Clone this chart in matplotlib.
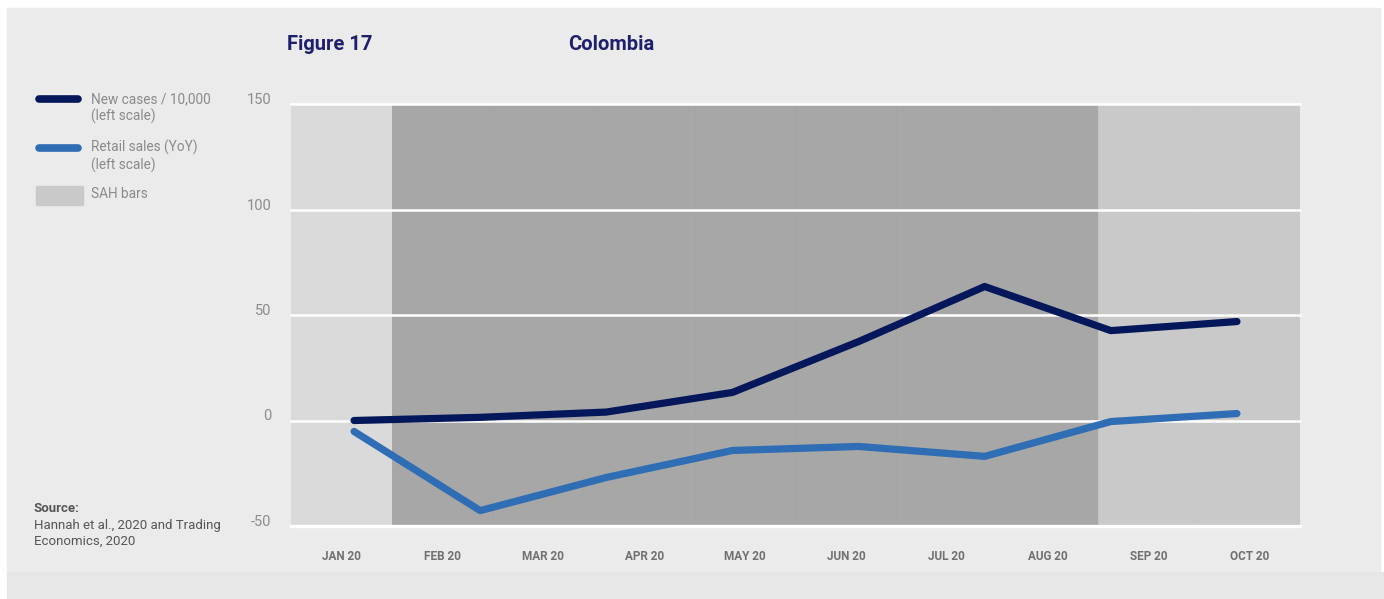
import numpy as np
import matplotlib.pyplot as plt
from matplotlib.lines import Line2D
from matplotlib.patches import Rectangle

plt.rcParams['font.family'] = ['Roboto', 'DejaVu Sans']

# monthly SAH bars (stringency shade level per month)
months = ['JAN 20', 'FEB 20', 'MAR 20', 'APR 20', 'MAY 20',
          'JUN 20', 'JUL 20', 'AUG 20', 'SEP 20', 'OCT 20']
sah_level = [1, 3, 3, 3, 3, 3, 3, 3, 2, 2]

# the two series sit on their own 8-step scale
new_cases = [0, 1.5, 4, 13.3, 37.4, 63.5, 42.6, 46.9]
retail_sales = [-5.2, -42.7, -27, -14.2, -12.3, -17, -0.5, 3.3]

yticks = [-50, 0, 50, 100, 150]

W, H = 1384, 599
fig = plt.figure(figsize=(W / 100, H / 100), dpi=100, facecolor='white')

# background panel + bottom band
fig.add_artist(Rectangle((7 / W, 1 - 572 / H), 1373 / W, 564 / H,
                         transform=fig.transFigure, color='#ebebeb', zorder=-10))
fig.add_artist(Rectangle((7 / W, 0), 1 - 7 / W, 1 - 572 / H,
                         transform=fig.transFigure, color='#e6e6e6', zorder=-10))

ax = fig.add_axes([291 / W, 73 / H, 1009 / W, 422 / H])
ax.patch.set_visible(False)

shade = {1: '#dadada', 2: '#c9c9c9', 3: '#a7a7a7'}
edge = {1: '#d8d8d8', 2: '#c7c7c7', 3: '#a4a4a4'}
xm = np.arange(len(months))
ax.bar(xm, yticks[-1] - yticks[0], bottom=yticks[0], width=1.0,
       color=[shade[s] for s in sah_level],
       edgecolor=[edge[s] for s in sah_level], linewidth=0.6, zorder=1)
for yv in yticks:
    ax.axhline(yv, color='white', lw=1.8 if yv != yticks[0] else 2.4, zorder=2, clip_on=False)

ax.set_xlim(-0.5, len(months) - 0.5)
ax.set_ylim(yticks[0], yticks[-1])
ax.set_xticks(xm)
ax.set_xticklabels(months, fontsize=8.5, fontweight='bold', color='#707070')
ax.set_yticks(yticks)
ax.set_yticklabels([str(v) for v in yticks], fontsize=10.5, color='#8c8c8c')
ax.tick_params(axis='x', length=0, pad=17)
ax.tick_params(axis='y', length=0, pad=14)
for lbl in ax.get_yticklabels():
    lbl.set_va('baseline')
for s in ax.spines.values():
    s.set_visible(False)

# line series on a twin x scale
ax2 = ax.twiny()
xl = np.arange(len(new_cases))
ax2.set_xlim(-0.5, len(new_cases) - 0.5)
ax2.plot(xl, new_cases, color='#03175a', lw=5.2, solid_capstyle='round',
         solid_joinstyle='round', zorder=5)
ax2.plot(xl, retail_sales, color='#2f6db5', lw=5.2, solid_capstyle='round',
         solid_joinstyle='round', zorder=5)
ax2.set_xticks([])
for s in ax2.spines.values():
    s.set_visible(False)

# titles
navy = '#1f1f6e'
fig.text(287 / W, 1 - 45 / H, 'Figure 17', fontsize=14.5, fontweight='bold',
         color=navy, va='center', ha='left')
fig.text(568 / W, 1 - 45 / H, 'Colombia', fontsize=14.5, fontweight='bold',
         color=navy, va='center', ha='left')

# legend drawn by hand
lg = '#8a8a8a'
fig.add_artist(Line2D([39 / W, 78 / W], [1 - 99 / H] * 2, color='#03175a', lw=5.5,
                      solid_capstyle='round', transform=fig.transFigure))
fig.add_artist(Line2D([39 / W, 78 / W], [1 - 148 / H] * 2, color='#2f6db5', lw=5.5,
                      solid_capstyle='round', transform=fig.transFigure))
fig.add_artist(Rectangle((36 / W, 1 - 205 / H), 47 / W, 19 / H,
                         transform=fig.transFigure, color='#c9c9c9'))
fig.text(91 / W, 1 - 99 / H, 'New cases / 10,000', fontsize=9.8, color=lg, va='center')
fig.text(91 / W, 1 - 116 / H, '(left scale)', fontsize=9.8, color=lg, va='center')
fig.text(91 / W, 1 - 147 / H, 'Retail sales (YoY)', fontsize=9.8, color=lg, va='center')
fig.text(91 / W, 1 - 165 / H, '(left scale)', fontsize=9.8, color=lg, va='center')
fig.text(91 / W, 1 - 194 / H, 'SAH bars', fontsize=9.8, color=lg, va='center')

# source note
sc = '#555555'
fig.text(34 / W, 1 - 509 / H, 'Source:', fontsize=9.5, fontweight='bold', color=sc, va='center')
fig.text(34 / W, 1 - 525 / H, 'Hannah et al., 2020 and Trading', fontsize=9.5, color=sc, va='center')
fig.text(34 / W, 1 - 541 / H, 'Economics, 2020', fontsize=9.5, color=sc, va='center')

fig.savefig('out.png', dpi=100, facecolor=fig.get_facecolor())
